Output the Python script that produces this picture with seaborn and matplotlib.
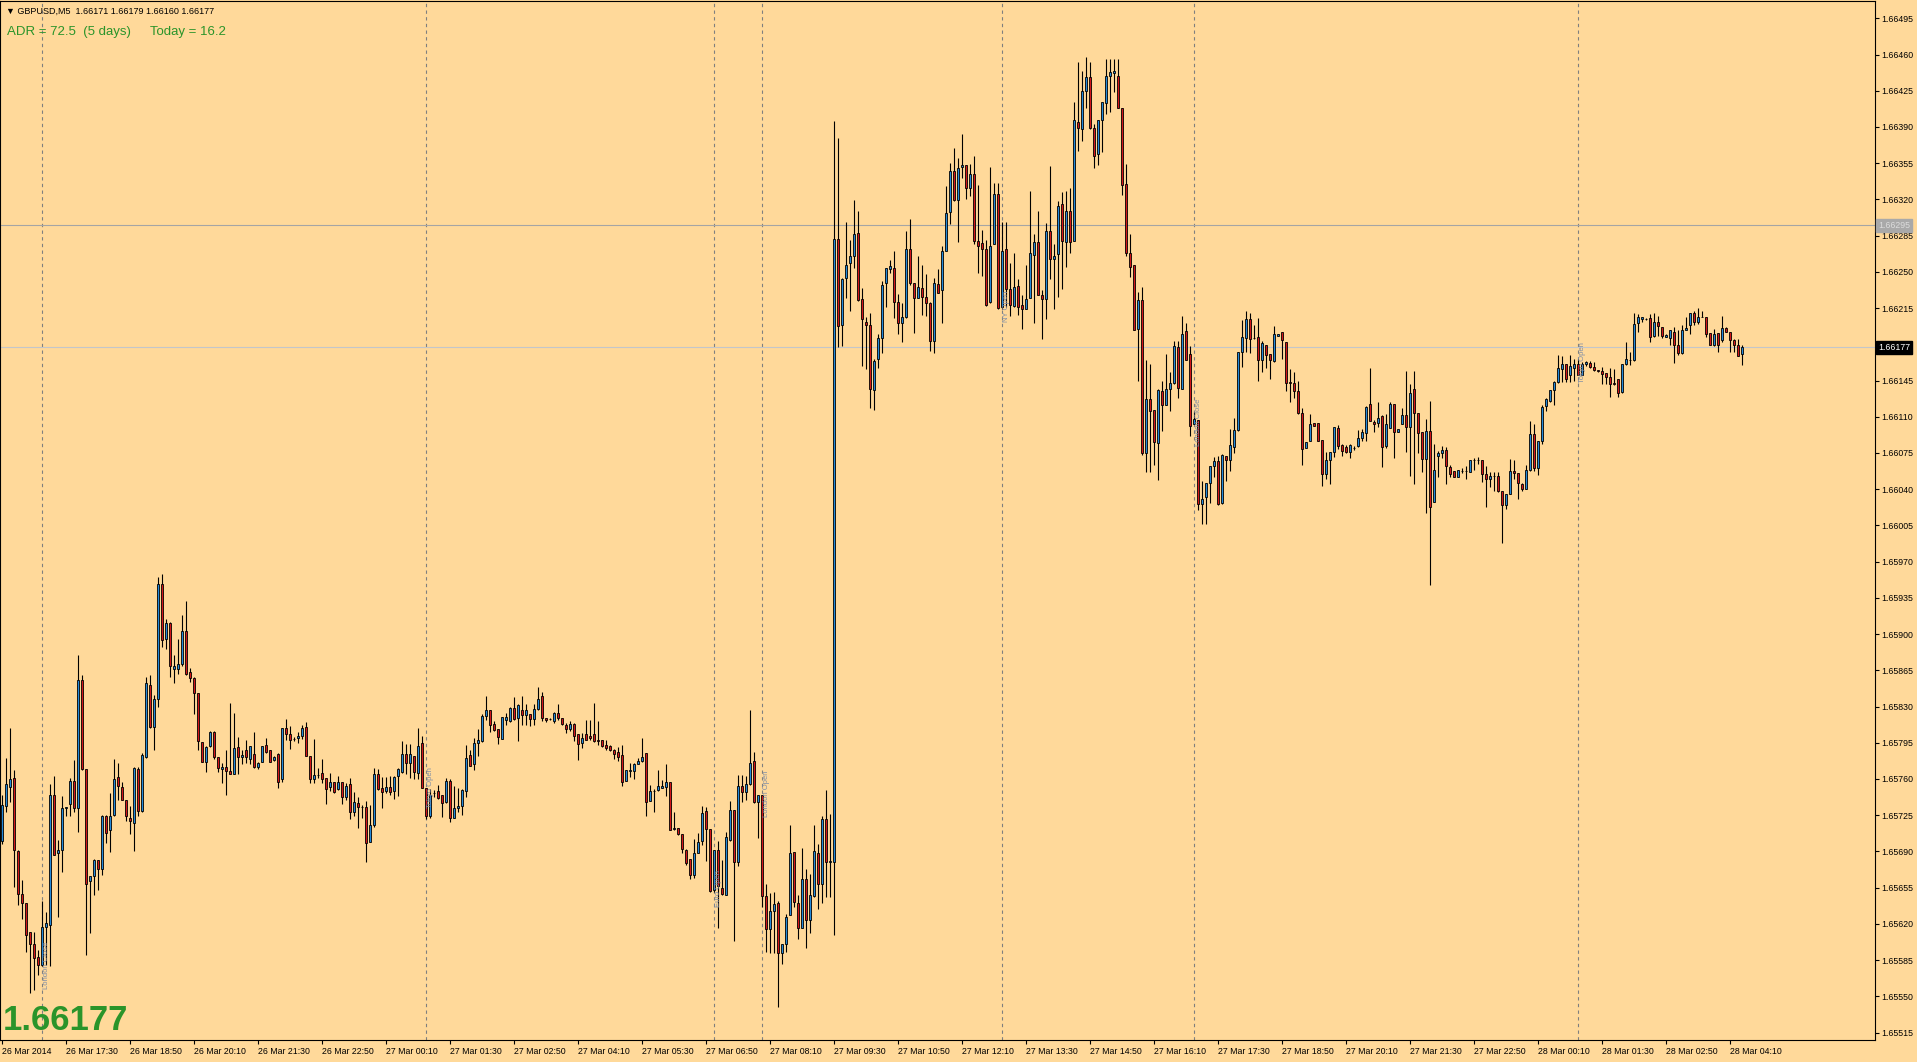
import numpy as np
import pandas as pd
import matplotlib
matplotlib.use("Agg")
import matplotlib.pyplot as plt
import matplotlib.transforms as mtransforms
import seaborn as sns

# GBPUSD M5 candles, 26 Mar 16:10 -> 28 Mar 04:25
# prices stored in points above 1.65000
opens = [
    700, 734, 752, 761, 690, 649, 640, 612, 601, 588, 580, 617, 619, 745, 688, 691, 732, 736, 758, 732,
    856, 770, 661, 666, 682, 673, 724, 711, 725, 762, 752, 740, 722, 717, 770, 729, 781, 851, 810, 837,
    948, 895, 911, 866, 866, 871, 903, 863, 858, 843, 796, 776, 792, 805, 781, 770, 772, 768, 765, 791,
    781, 788, 779, 784, 772, 776, 793, 788, 778, 784, 760, 809, 803, 799, 800, 802, 810, 782, 760, 764,
    766, 761, 752, 757, 750, 757, 743, 755, 728, 737, 733, 733, 699, 716, 765, 751, 748, 752, 748, 763,
    767, 784, 775, 782, 766, 795, 751, 724, 746, 748, 745, 738, 758, 722, 732, 734, 748, 783, 774, 795,
    797, 821, 827, 813, 808, 799, 817, 816, 829, 819, 827, 822, 823, 818, 828, 840, 819, 818, 816, 824,
    819, 812, 808, 813, 803, 795, 803, 802, 803, 798, 798, 793, 792, 788, 786, 783, 758, 768, 768, 774,
    777, 785, 739, 748, 749, 751, 752, 757, 712, 713, 707, 691, 683, 667, 688, 700, 729, 712, 653, 691,
    655, 648, 701, 730, 680, 753, 747, 755, 777, 738, 745, 647, 615, 632, 640, 592, 601, 629, 689, 640,
    616, 663, 624, 647, 688, 659, 721, 680, 680, 1282, 1199, 1244, 1259, 1265, 1288, 1224, 1202, 1199, 1136, 1166,
    1186, 1239, 1253, 1254, 1221, 1201, 1206, 1272, 1239, 1225, 1234, 1226, 1220, 1183, 1238, 1232, 1270, 1308, 1347, 1319,
    1351, 1353, 1331, 1345, 1280, 1278, 1272, 1221, 1277, 1325, 1216, 1272, 1233, 1217, 1236, 1218, 1214, 1225, 1266, 1279,
    1228, 1224, 1289, 1262, 1267, 1316, 1279, 1309, 1280, 1395, 1388, 1425, 1438, 1389, 1364, 1397, 1413, 1439, 1442, 1439,
    1408, 1335, 1268, 1257, 1195, 1223, 1075, 1127, 1117, 1085, 1135, 1121, 1137, 1143, 1177, 1137, 1193, 1171, 1103, 1107,
    1026, 1032, 1046, 1062, 1067, 1027, 1072, 1068, 1081, 1097, 1173, 1186, 1204, 1186, 1187, 1165, 1179, 1171, 1164, 1188,
    1192, 1182, 1144, 1143, 1135, 1114, 1080, 1087, 1104, 1104, 1088, 1055, 1068, 1076, 1099, 1083, 1081, 1076, 1080, 1082,
    1089, 1094, 1122, 1105, 1104, 1111, 1082, 1099, 1122, 1095, 1103, 1112, 1100, 1137, 1114, 1095, 1069, 1096, 1028, 1072,
    1075, 1078, 1061, 1058, 1052, 1058, 1058, 1057, 1068, 1068, 1068, 1055, 1050, 1053, 1053, 1038, 1025, 1035, 1058, 1056,
    1045, 1040, 1059, 1093, 1060, 1087, 1120, 1125, 1136, 1144, 1156, 1161, 1150, 1157, 1161, 1150, 1161, 1162, 1158, 1155,
    1154, 1152, 1148, 1143, 1146, 1134, 1161, 1165, 1165, 1201, 1204, 1204, 1205, 1188, 1202, 1197, 1187, 1186, 1192, 1179,
    1172, 1194, 1199, 1210, 1202, 1206, 1206, 1191, 1179, 1191, 1184, 1196, 1192, 1184, 1179, 1171,
]
highs = [
    745, 780, 809, 769, 691, 662, 640, 612, 612, 595, 642, 631, 755, 763, 701, 744, 733, 761, 778, 880,
    860, 770, 666, 683, 682, 725, 725, 746, 779, 775, 757, 740, 734, 772, 772, 785, 859, 860, 841, 955,
    958, 915, 912, 880, 895, 918, 932, 867, 859, 843, 796, 792, 806, 806, 781, 775, 788, 833, 824, 801,
    788, 798, 792, 805, 776, 792, 800, 788, 782, 785, 809, 818, 811, 801, 805, 812, 815, 782, 799, 771,
    779, 761, 766, 757, 763, 757, 756, 761, 747, 743, 735, 739, 735, 771, 770, 762, 762, 763, 763, 771,
    797, 794, 794, 782, 809, 802, 751, 750, 749, 754, 745, 761, 760, 753, 751, 750, 793, 788, 800, 808,
    823, 840, 827, 816, 808, 820, 824, 830, 839, 832, 840, 832, 823, 832, 849, 844, 819, 819, 825, 832,
    819, 814, 816, 814, 803, 804, 817, 817, 833, 816, 798, 798, 793, 789, 791, 793, 769, 775, 775, 780,
    800, 785, 754, 750, 769, 759, 774, 757, 728, 713, 707, 692, 683, 702, 708, 734, 733, 712, 691, 700,
    682, 709, 739, 730, 764, 764, 763, 827, 786, 745, 745, 659, 650, 651, 642, 601, 630, 716, 689, 648,
    693, 673, 668, 716, 697, 724, 749, 726, 1396, 1379, 1244, 1298, 1281, 1319, 1309, 1234, 1206, 1210, 1166, 1190,
    1241, 1254, 1261, 1270, 1229, 1220, 1289, 1301, 1239, 1265, 1257, 1248, 1221, 1244, 1253, 1275, 1333, 1355, 1370, 1360,
    1383, 1353, 1354, 1362, 1334, 1290, 1281, 1351, 1336, 1336, 1298, 1298, 1259, 1268, 1243, 1228, 1257, 1328, 1287, 1309,
    1232, 1297, 1352, 1277, 1318, 1327, 1328, 1331, 1414, 1453, 1444, 1458, 1453, 1393, 1397, 1414, 1456, 1456, 1456, 1456,
    1408, 1354, 1287, 1257, 1231, 1235, 1165, 1161, 1117, 1137, 1145, 1171, 1153, 1183, 1183, 1207, 1201, 1178, 1115, 1107,
    1048, 1046, 1062, 1071, 1072, 1074, 1072, 1098, 1109, 1173, 1203, 1212, 1210, 1199, 1205, 1183, 1179, 1171, 1198, 1190,
    1192, 1182, 1156, 1153, 1145, 1118, 1086, 1113, 1104, 1104, 1088, 1076, 1076, 1100, 1102, 1084, 1083, 1084, 1082, 1097,
    1098, 1120, 1157, 1107, 1124, 1112, 1113, 1124, 1122, 1098, 1118, 1154, 1142, 1154, 1114, 1095, 1108, 1125, 1084, 1077,
    1082, 1081, 1063, 1058, 1059, 1060, 1062, 1068, 1070, 1071, 1068, 1062, 1057, 1057, 1057, 1038, 1035, 1069, 1068, 1056,
    1046, 1063, 1106, 1103, 1087, 1121, 1128, 1136, 1145, 1170, 1169, 1161, 1170, 1166, 1166, 1163, 1164, 1164, 1163, 1155,
    1158, 1152, 1157, 1156, 1146, 1161, 1182, 1173, 1210, 1209, 1206, 1205, 1209, 1210, 1207, 1197, 1190, 1194, 1197, 1194,
    1199, 1206, 1210, 1212, 1215, 1212, 1206, 1191, 1195, 1191, 1207, 1197, 1192, 1185, 1185, 1179,
]
lows = [
    697, 728, 738, 656, 638, 625, 593, 553, 556, 571, 579, 580, 579, 687, 627, 670, 724, 724, 728, 709,
    769, 590, 611, 648, 653, 667, 698, 689, 724, 740, 740, 719, 707, 690, 724, 728, 780, 809, 788, 830,
    888, 886, 859, 853, 861, 869, 860, 854, 823, 788, 776, 767, 791, 779, 767, 756, 745, 765, 765, 765,
    774, 775, 774, 771, 770, 776, 785, 776, 777, 751, 757, 798, 789, 797, 795, 799, 782, 756, 756, 761,
    756, 736, 748, 746, 749, 736, 740, 721, 724, 713, 722, 680, 699, 714, 749, 732, 746, 745, 741, 744,
    766, 765, 761, 760, 760, 751, 721, 722, 743, 741, 723, 737, 718, 722, 728, 725, 743, 773, 769, 782,
    796, 817, 805, 806, 794, 799, 812, 815, 817, 797, 812, 812, 811, 812, 827, 816, 815, 817, 814, 817,
    812, 804, 806, 797, 778, 790, 798, 798, 796, 793, 791, 788, 787, 779, 777, 753, 758, 762, 760, 774,
    776, 724, 739, 728, 748, 751, 744, 711, 711, 706, 688, 677, 663, 664, 688, 696, 681, 651, 651, 616,
    648, 648, 700, 603, 676, 738, 740, 754, 737, 703, 636, 593, 592, 592, 540, 581, 593, 629, 636, 605,
    616, 597, 611, 646, 634, 640, 646, 646, 609, 1177, 1178, 1225, 1212, 1254, 1222, 1159, 1156, 1118, 1117, 1157,
    1172, 1216, 1249, 1205, 1190, 1182, 1205, 1237, 1191, 1225, 1208, 1207, 1174, 1172, 1230, 1201, 1270, 1296, 1318, 1279,
    1341, 1320, 1323, 1277, 1249, 1246, 1217, 1220, 1277, 1214, 1214, 1216, 1207, 1216, 1208, 1195, 1214, 1225, 1201, 1228,
    1185, 1204, 1243, 1214, 1226, 1233, 1255, 1268, 1280, 1367, 1376, 1408, 1388, 1350, 1353, 1366, 1403, 1404, 1424, 1408,
    1324, 1265, 1245, 1194, 1145, 1073, 1057, 1057, 1063, 1049, 1096, 1121, 1116, 1142, 1128, 1137, 1165, 1091, 1103, 1020,
    1006, 1006, 1027, 1052, 1025, 1026, 1048, 1058, 1075, 1096, 1158, 1173, 1172, 1185, 1145, 1153, 1157, 1146, 1163, 1188,
    1166, 1135, 1124, 1128, 1113, 1063, 1080, 1087, 1101, 1087, 1043, 1050, 1045, 1071, 1079, 1072, 1075, 1070, 1078, 1081,
    1087, 1087, 1106, 1095, 1100, 1061, 1080, 1099, 1070, 1095, 1103, 1076, 1053, 1045, 1075, 1057, 1017, 947, 1028, 1052,
    1070, 1045, 1052, 1052, 1052, 1056, 1050, 1057, 1059, 1064, 1047, 1023, 1042, 1038, 1037, 988, 1021, 1035, 1050, 1031,
    1038, 1040, 1058, 1058, 1054, 1084, 1116, 1124, 1121, 1143, 1144, 1144, 1144, 1145, 1150, 1150, 1159, 1157, 1154, 1153,
    1142, 1142, 1129, 1141, 1129, 1133, 1160, 1160, 1164, 1192, 1202, 1203, 1182, 1187, 1188, 1186, 1187, 1179, 1162, 1170,
    1171, 1194, 1190, 1199, 1200, 1206, 1187, 1179, 1178, 1173, 1182, 1192, 1173, 1173, 1169, 1160,
]
closes = [
    735, 755, 760, 691, 649, 640, 609, 601, 587, 580, 617, 621, 745, 687, 691, 732, 733, 758, 732, 856,
    770, 659, 666, 682, 673, 724, 708, 724, 760, 753, 740, 724, 719, 771, 729, 783, 853, 810, 837, 948,
    894, 911, 869, 869, 871, 903, 861, 858, 843, 797, 776, 791, 805, 781, 771, 772, 768, 765, 790, 781,
    783, 781, 792, 772, 775, 792, 786, 776, 781, 757, 809, 803, 798, 799, 802, 809, 782, 760, 764, 764,
    760, 750, 757, 747, 757, 743, 753, 728, 738, 733, 733, 698, 716, 765, 750, 747, 752, 747, 762, 770,
    784, 775, 784, 767, 792, 751, 724, 745, 746, 742, 737, 758, 722, 732, 734, 749, 780, 773, 795, 798,
    821, 827, 812, 807, 801, 820, 820, 829, 818, 831, 822, 827, 818, 828, 837, 819, 817, 818, 824, 819,
    813, 808, 813, 802, 794, 800, 798, 800, 797, 797, 792, 790, 788, 784, 781, 757, 769, 769, 774, 777,
    781, 738, 748, 748, 753, 753, 757, 711, 713, 707, 692, 679, 667, 688, 699, 727, 712, 652, 691, 657,
    649, 704, 730, 680, 753, 747, 755, 775, 738, 745, 647, 615, 632, 639, 592, 601, 627, 688, 641, 616,
    663, 624, 648, 690, 659, 721, 680, 681, 1282, 1198, 1243, 1257, 1265, 1287, 1223, 1204, 1199, 1137, 1164, 1186,
    1237, 1254, 1256, 1221, 1201, 1206, 1272, 1239, 1225, 1235, 1226, 1220, 1183, 1239, 1230, 1270, 1307, 1347, 1319, 1350,
    1353, 1331, 1345, 1280, 1275, 1272, 1218, 1275, 1325, 1215, 1270, 1233, 1218, 1235, 1216, 1214, 1224, 1268, 1279, 1228,
    1224, 1289, 1262, 1265, 1314, 1280, 1309, 1279, 1397, 1389, 1425, 1438, 1389, 1362, 1397, 1414, 1439, 1443, 1444, 1408,
    1334, 1268, 1255, 1194, 1223, 1075, 1127, 1116, 1086, 1136, 1121, 1137, 1143, 1178, 1138, 1190, 1165, 1101, 1108, 1026,
    1031, 1046, 1062, 1067, 1026, 1073, 1068, 1083, 1097, 1173, 1187, 1204, 1185, 1186, 1165, 1181, 1170, 1165, 1190, 1190,
    1184, 1143, 1143, 1135, 1114, 1079, 1086, 1103, 1101, 1087, 1055, 1068, 1076, 1100, 1082, 1077, 1076, 1083, 1080, 1089,
    1095, 1119, 1106, 1103, 1109, 1081, 1103, 1122, 1095, 1098, 1112, 1100, 1133, 1114, 1094, 1069, 1096, 1023, 1059, 1075,
    1078, 1062, 1055, 1052, 1059, 1058, 1058, 1068, 1068, 1068, 1055, 1050, 1053, 1053, 1038, 1025, 1035, 1058, 1056, 1046,
    1040, 1059, 1093, 1060, 1087, 1119, 1127, 1136, 1144, 1157, 1161, 1146, 1159, 1161, 1150, 1161, 1163, 1158, 1155, 1154,
    1151, 1148, 1142, 1142, 1133, 1161, 1166, 1165, 1200, 1206, 1206, 1204, 1187, 1202, 1198, 1188, 1189, 1194, 1179, 1172,
    1194, 1196, 1210, 1202, 1206, 1206, 1190, 1179, 1190, 1179, 1196, 1192, 1184, 1179, 1169, 1177,
]

xtick_labels = [
    "26 Mar 2014", "26 Mar 17:30", "26 Mar 18:50", "26 Mar 20:10", "26 Mar 21:30", "26 Mar 22:50",
    "27 Mar 00:10", "27 Mar 01:30", "27 Mar 02:50", "27 Mar 04:10", "27 Mar 05:30", "27 Mar 06:50",
    "27 Mar 08:10", "27 Mar 09:30", "27 Mar 10:50", "27 Mar 12:10", "27 Mar 13:30", "27 Mar 14:50",
    "27 Mar 16:10", "27 Mar 17:30", "27 Mar 18:50", "27 Mar 20:10", "27 Mar 21:30", "27 Mar 22:50",
    "28 Mar 00:10", "28 Mar 01:30", "28 Mar 02:50", "28 Mar 04:10",
]
ytick_labels = [
    "1.65515", "1.65550", "1.65585", "1.65620", "1.65655", "1.65690", "1.65725", "1.65760",
    "1.65795", "1.65830", "1.65865", "1.65900", "1.65935", "1.65970", "1.66005", "1.66040",
    "1.66075", "1.66110", "1.66145", "1.66180", "1.66215", "1.66250", "1.66285", "1.66320",
    "1.66355", "1.66390", "1.66425", "1.66460", "1.66495",
]

session_bars = [10, 106, 178, 190, 250, 298, 394]
session_names = ["London Close", "Tokyo Open", "Euro Open", "London Open", "NY Open", "London Close", "Tokyo Open"]
session_levels = [1.65580, 1.65752, 1.65654, 1.65746, 1.66217, 1.66105, 1.66162]

last_price = 1.66177
grey_line = 1.66295

BG = "#FFD99A"
BULL = "#2389DA"
BEAR = "#D2161B"
GREEN = "#2A942A"

n = min(len(opens), len(highs), len(lows), len(closes))
df = pd.DataFrame({
    "open": opens[:n], "high": highs[:n], "low": lows[:n], "close": closes[:n],
})
df = 1.65 + df / 1e5
df["high"] = df[["open", "high", "close"]].max(axis=1)
df["low"] = df[["open", "low", "close"]].min(axis=1)
df["bar"] = np.arange(n)

sns.set_theme(style="white", rc={"axes.facecolor": BG, "figure.facecolor": BG,
                                 "axes.edgecolor": "black", "axes.linewidth": 0.8})
plt.rcParams["font.family"] = ["Liberation Sans", "DejaVu Sans"]

fig = plt.figure(figsize=(19.17, 10.62), dpi=100)
ax = fig.add_axes([0, 22 / 1062, 1875 / 1917, 1039 / 1062])

# session lines
for b in session_bars:
    ax.axvline(b, color="#7F7F7F", lw=0.8, ls=(0, (3, 3)), zorder=1)
for b, name, lvl in zip(session_bars, session_names, session_levels):
    ax.text(b + 1.1, lvl, name, rotation=90, ha="center", va="center",
            fontsize=5.5, color="#7D8CA6", zorder=4)

ax.axhline(grey_line, color="#A5A5A5", lw=0.8, zorder=1)
ax.axhline(last_price, color="#C3C6CA", lw=0.8, zorder=1)

# candles
up = df["close"] >= df["open"]
ax.vlines(df["bar"], df["low"], df["high"], color="black", lw=0.8, zorder=2)
ax.bar(df["bar"], (df["close"] - df["open"]).abs(), bottom=df[["open", "close"]].min(axis=1),
       width=0.58, color=np.where(up, BULL, BEAR), edgecolor="black", linewidth=0.6, zorder=3)

ax.set_xlim(-0.5, 468.25)
ax.set_ylim(1.655078, 1.665117)

ax.set_xticks(np.arange(len(xtick_labels)) * 16)
ax.set_xticklabels(xtick_labels)
for lab in ax.get_xticklabels():
    lab.set_horizontalalignment("left")
ax.set_yticks([float(v) for v in ytick_labels])
ax.set_yticklabels(ytick_labels)
ax.yaxis.tick_right()
ax.tick_params(axis="x", direction="out", length=3, width=0.8, pad=2, labelsize=6.3,
               colors="black", bottom=True)
ax.tick_params(axis="y", direction="out", length=3, width=0.8, pad=1.5, labelsize=6.3,
               colors="black", right=True, left=False)
for sp in ax.spines.values():
    sp.set_color("black")
    sp.set_linewidth(0.8)
ax.grid(False)

# price boxes on the axis
trans = mtransforms.blended_transform_factory(ax.transAxes, ax.transData)
ax.text(1.0015, last_price, "1.66177", transform=trans, ha="left", va="center", fontsize=6.3,
        color="white", clip_on=False, zorder=6,
        bbox=dict(boxstyle="square,pad=0.22", fc="black", ec="black"))
ax.text(1.0015, grey_line, "1.66295", transform=trans, ha="left", va="center", fontsize=6.3,
        color="#DCDCDC", clip_on=False, zorder=6,
        bbox=dict(boxstyle="square,pad=0.22", fc="#A9A9A9", ec="#A9A9A9"))

# header texts
fig.text(6 / 1917, 1 - 11 / 1062, "\u25bc GBPUSD,M5  1.66171 1.66179 1.66160 1.66177",
         ha="left", va="center", fontsize=6.5, color="black")
fig.text(7 / 1917, 1 - 32 / 1062, "ADR = 72.5  (5 days)", ha="left", va="center",
         fontsize=9.5, color=GREEN)
fig.text(150 / 1917, 1 - 32 / 1062, "Today = 16.2", ha="left", va="center",
         fontsize=9.5, color=GREEN)
fig.text(3 / 1917, 1 - 1030 / 1062, "1.66177", ha="left", va="baseline",
         fontsize=25, fontweight="bold", color=GREEN)

fig.savefig("out.png", dpi=100, facecolor=BG)
